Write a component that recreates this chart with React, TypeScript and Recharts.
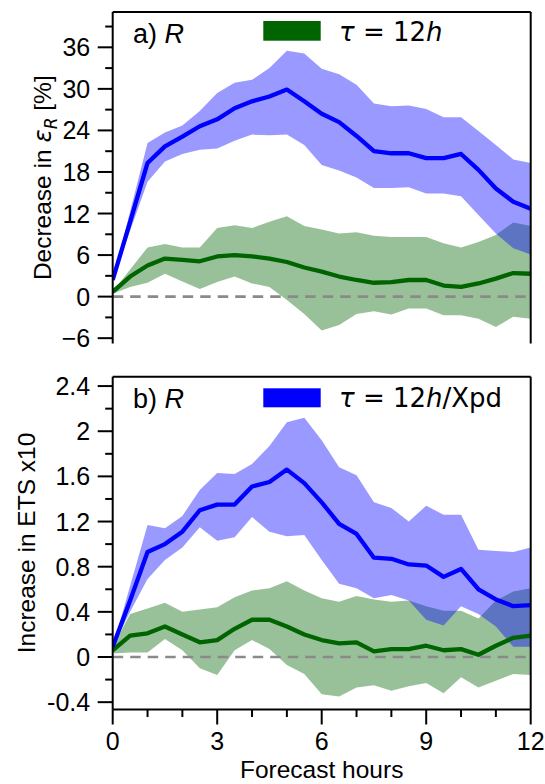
import React from 'react';
import { ComposedChart, Area, Line, XAxis, YAxis, ReferenceLine } from 'recharts';

// Forecast hours (half-hourly)
const hours = [0, 0.5, 1, 1.5, 2, 2.5, 3, 3.5, 4, 4.5, 5, 5.5, 6, 6.5, 7, 7.5, 8, 8.5, 9, 9.5, 10, 10.5, 11, 11.5, 12];

// Panel a) Decrease in eps_R [%]
const blueMeanA = [2.4, 10.8, 19.3, 21.7, 23.1, 24.6, 25.6, 27.2, 28.2, 28.9, 29.9, 28.2, 26.4, 25.2, 23.2, 21.0, 20.7, 20.7, 20.0, 20.0, 20.6, 18.3, 15.6, 13.7, 12.7];
const blueHiA = [2.4, 12.3, 22.2, 23.7, 24.7, 26.8, 29.4, 30.9, 31.3, 33.0, 35.5, 35.1, 32.9, 32.1, 30.6, 27.9, 27.5, 27.6, 27.1, 25.9, 25.9, 23.9, 21.9, 19.8, 19.3];
const blueLoA = [2.4, 9.5, 16.6, 19.5, 20.6, 21.2, 21.4, 22.5, 23.4, 23.3, 23.4, 21.9, 19.0, 18.2, 17.2, 15.7, 15.7, 15.8, 14.9, 14.9, 14.5, 11.8, 9.1, 7.0, 6.1];
const greenMeanA = [0.7, 2.9, 4.5, 5.5, 5.3, 5.1, 5.8, 6.0, 5.8, 5.5, 5.0, 4.2, 3.6, 2.9, 2.4, 2.0, 2.1, 2.4, 2.4, 1.6, 1.4, 1.9, 2.6, 3.4, 3.3];
const greenHiA = [0.7, 3.9, 7.1, 7.6, 7.1, 7.1, 9.9, 10.3, 9.9, 10.8, 11.6, 10.2, 9.7, 9.1, 9.3, 8.8, 8.6, 8.6, 8.6, 7.7, 7.1, 7.9, 8.9, 10.7, 10.2];
const greenLoA = [0.4, 1.4, 2.0, 3.3, 2.2, 1.1, 2.1, 2.9, 1.9, 1.4, -0.5, -2.5, -4.9, -4.1, -2.5, -2.1, -2.6, -1.7, -1.7, -2.7, -2.7, -3.2, -4.4, -2.9, -3.2];

// Panel b) Increase in ETS x10
const blueMeanB = [0.09, 0.50, 0.93, 1.00, 1.11, 1.30, 1.35, 1.35, 1.51, 1.55, 1.66, 1.54, 1.37, 1.18, 1.09, 0.88, 0.87, 0.82, 0.81, 0.71, 0.78, 0.60, 0.51, 0.45, 0.46];
const blueHiB = [0.09, 0.63, 1.17, 1.14, 1.25, 1.48, 1.63, 1.62, 1.71, 1.87, 2.08, 2.12, 1.92, 1.68, 1.61, 1.37, 1.32, 1.20, 1.34, 1.26, 1.26, 0.95, 0.94, 0.93, 0.97];
const blueLoB = [0.09, 0.40, 0.69, 0.86, 0.97, 1.15, 1.03, 1.06, 1.24, 1.11, 1.07, 1.08, 0.86, 0.65, 0.61, 0.52, 0.55, 0.50, 0.33, 0.28, 0.45, 0.38, 0.27, 0.09, 0.09];
const greenMeanB = [0.06, 0.19, 0.21, 0.27, 0.20, 0.13, 0.15, 0.25, 0.33, 0.33, 0.27, 0.20, 0.15, 0.12, 0.13, 0.05, 0.07, 0.07, 0.10, 0.06, 0.07, 0.02, 0.10, 0.17, 0.19];
const greenHiB = [0.09, 0.38, 0.43, 0.48, 0.40, 0.42, 0.44, 0.53, 0.59, 0.61, 0.67, 0.59, 0.52, 0.49, 0.54, 0.51, 0.49, 0.50, 0.45, 0.41, 0.41, 0.34, 0.50, 0.58, 0.61];
const greenLoB = [0.03, 0.04, 0.04, 0.16, 0.06, -0.10, -0.16, 0.06, 0.15, 0.07, -0.07, -0.15, -0.33, -0.35, -0.27, -0.25, -0.30, -0.26, -0.23, -0.32, -0.18, -0.27, -0.21, -0.15, -0.16];

// Ticks
const xTicks = [0, 1, 2, 3, 4, 5, 6, 7, 8, 9, 10, 11, 12];
const xMajor = [0, 3, 6, 9, 12];
const xLabels = ['0', '3', '6', '9', '12'];

const yTicksA = [-6, -3, 0, 3, 6, 9, 12, 15, 18, 21, 24, 27, 30, 33, 36, 39];
const yMajorA = [-6, 0, 6, 12, 18, 24, 30, 36];
const yLabelsA = ['\u22126', '0', '6', '12', '18', '24', '30', '36'];

const yTicksB = [-0.4, -0.2, 0, 0.2, 0.4, 0.6, 0.8, 1, 1.2, 1.4, 1.6, 1.8, 2, 2.2, 2.4];
const yMajorB = [-0.4, 0, 0.4, 0.8, 1.2, 1.6, 2, 2.4];
const yLabelsB = ['-0.4', '0', '0.4', '0.8', '1.2', '1.6', '2', '2.4'];

const domainA: [number, number] = [-6.77, 41.1];
const domainB: [number, number] = [-0.465, 2.483];

const rowsA = hours.map((h, i) => ({
  h,
  gBand: [greenLoA[i], greenHiA[i]],
  bBand: [blueLoA[i], blueHiA[i]],
  gMean: greenMeanA[i],
  bMean: blueMeanA[i],
}));
const rowsB = hours.map((h, i) => ({
  h,
  gBand: [greenLoB[i], greenHiB[i]],
  bBand: [blueLoB[i], blueHiB[i]],
  gMean: greenMeanB[i],
  bMean: blueMeanB[i],
}));

const SANS = '"Liberation Sans", Arial, Helvetica, sans-serif';
const MATH = '"DejaVu Sans", sans-serif';
const GREEN = '#006400';
const BLUE = '#0000ff';

function makeYTick(majors: number[], labels: string[]) {
  return (props: any) => {
    const { x, y, payload } = props;
    const idx = majors.findIndex((m) => Math.abs(m - payload.value) < 1e-6);
    const len = idx >= 0 ? 15 : 7.5;
    return (
      <g>
        <line x1={x - len} x2={x} y1={y} y2={y} stroke="#000" strokeWidth={2} />
        {idx >= 0 && (
          <text x={x - 22.5} y={y + 9} textAnchor="end" fontFamily={SANS} fontSize={25} fill="#000">
            {labels[idx]}
          </text>
        )}
      </g>
    );
  };
}

function makeXTick(showLabels: boolean) {
  return (props: any) => {
    const { x, y, payload } = props;
    const idx = xMajor.findIndex((m) => Math.abs(m - payload.value) < 1e-6);
    const len = idx >= 0 ? 15 : 7.5;
    return (
      <g>
        <line x1={x} x2={x} y1={y} y2={y + len} stroke="#000" strokeWidth={2} />
        {showLabels && idx >= 0 && (
          <text x={x} y={y + 40} textAnchor="middle" fontFamily={SANS} fontSize={25} fill="#000">
            {xLabels[idx]}
          </text>
        )}
      </g>
    );
  };
}

type PanelProps = {
  rows: any[];
  domain: [number, number];
  yTicks: number[];
  yMajor: number[];
  yLabels: string[];
  height: number;
  margin: { top: number; right: number; bottom: number; left: number };
  xHeight: number;
  showXLabels: boolean;
};

function Panel(p: PanelProps) {
  const axisLine = { stroke: '#000', strokeWidth: 2 };
  return (
    <ComposedChart width={545} height={p.height} data={p.rows} margin={p.margin}>
      <XAxis
        dataKey="h"
        type="number"
        domain={[0, 12]}
        ticks={xTicks}
        interval={0}
        tick={makeXTick(p.showXLabels)}
        tickLine={false}
        tickSize={0}
        tickMargin={0}
        height={p.xHeight}
        axisLine={axisLine}
        allowDataOverflow
      />
      <YAxis
        type="number"
        domain={p.domain}
        ticks={p.yTicks}
        interval={0}
        width={112.7}
        tick={makeYTick(p.yMajor, p.yLabels)}
        tickLine={false}
        tickSize={0}
        tickMargin={0}
        axisLine={axisLine}
        allowDataOverflow
      />
      <Area type="linear" dataKey="gBand" stroke="none" fill={GREEN} fillOpacity={0.4} isAnimationActive={false} />
      <Area type="linear" dataKey="bBand" stroke="none" fill={BLUE} fillOpacity={0.4} isAnimationActive={false} />
      <ReferenceLine y={0} stroke="#8a8a8a" strokeWidth={2.7} strokeDasharray="10.5 7" />
      <Line type="linear" dataKey="gMean" stroke={GREEN} strokeWidth={4.3} dot={false} strokeLinejoin="round" isAnimationActive={false} />
      <Line type="linear" dataKey="bMean" stroke={BLUE} strokeWidth={4.3} dot={false} strokeLinejoin="round" isAnimationActive={false} />
      <ReferenceLine x={12} stroke="#000" strokeWidth={2} />
      <ReferenceLine y={p.domain[1]} stroke="#000" strokeWidth={2} />
    </ComposedChart>
  );
}

export default function App() {
  return (
    <div style={{ position: 'absolute', left: 0, top: 0, width: 545, height: 784, background: '#fff' }}>
      <div style={{ position: 'absolute', left: 0, top: 0 }}>
        <Panel
          rows={rowsA}
          domain={domainA}
          yTicks={yTicksA}
          yMajor={yMajorA}
          yLabels={yLabelsA}
          height={360}
          margin={{ top: 12, right: 14.3, bottom: 16.5, left: 0 }}
          xHeight={0}
          showXLabels={false}
        />
      </div>
      <div style={{ position: 'absolute', left: 0, top: 360 }}>
        <Panel
          rows={rowsB}
          domain={domainB}
          yTicks={yTicksB}
          yMajor={yMajorB}
          yLabels={yLabelsB}
          height={424}
          margin={{ top: 16.7, right: 14.3, bottom: 0, left: 0 }}
          xHeight={74.5}
          showXLabels={true}
        />
      </div>
      <svg width={545} height={784} style={{ position: 'absolute', left: 0, top: 0, pointerEvents: 'none' }}>
        {/* panel tags */}
        <text x={133} y={42.5} fontFamily={SANS} fontSize={27} fill="#000">
          a) <tspan fontStyle="italic">R</tspan>
        </text>
        <text x={133} y={408} fontFamily={SANS} fontSize={27} fill="#000">
          b) <tspan fontStyle="italic">R</tspan>
        </text>
        {/* legends */}
        <rect x={263.3} y={21} width={57.4} height={19.7} fill={GREEN} />
        <text x={339} y={41} fontFamily={MATH} fontSize={26} fill="#000">
          <tspan fontStyle="italic">τ</tspan> = 12<tspan fontStyle="italic">h</tspan>
        </text>
        <rect x={263.3} y={388.3} width={57.4} height={19} fill={BLUE} />
        <text x={339} y={407} fontFamily={MATH} fontSize={26} fill="#000">
          <tspan fontStyle="italic">τ</tspan> = 12<tspan fontStyle="italic">h</tspan>/Xpd
        </text>
        {/* axis labels */}
        <text transform="translate(51,177.7) rotate(-90)" textAnchor="middle" fontFamily={SANS} fontSize={24.5} fill="#000">
          Decrease in <tspan fontFamily={MATH} fontStyle="italic">ε</tspan>
          <tspan fontFamily={MATH} fontStyle="italic" fontSize={17} dy={6}>R</tspan>
          <tspan dy={-6}> [%]</tspan>
        </text>
        <text transform="translate(35,543) rotate(-90)" textAnchor="middle" fontFamily={SANS} fontSize={24.5} fill="#000">
          Increase in ETS x10
        </text>
        <text x={321.7} y={778} textAnchor="middle" fontFamily={SANS} fontSize={24.5} fill="#000">
          Forecast hours
        </text>
      </svg>
    </div>
  );
}
